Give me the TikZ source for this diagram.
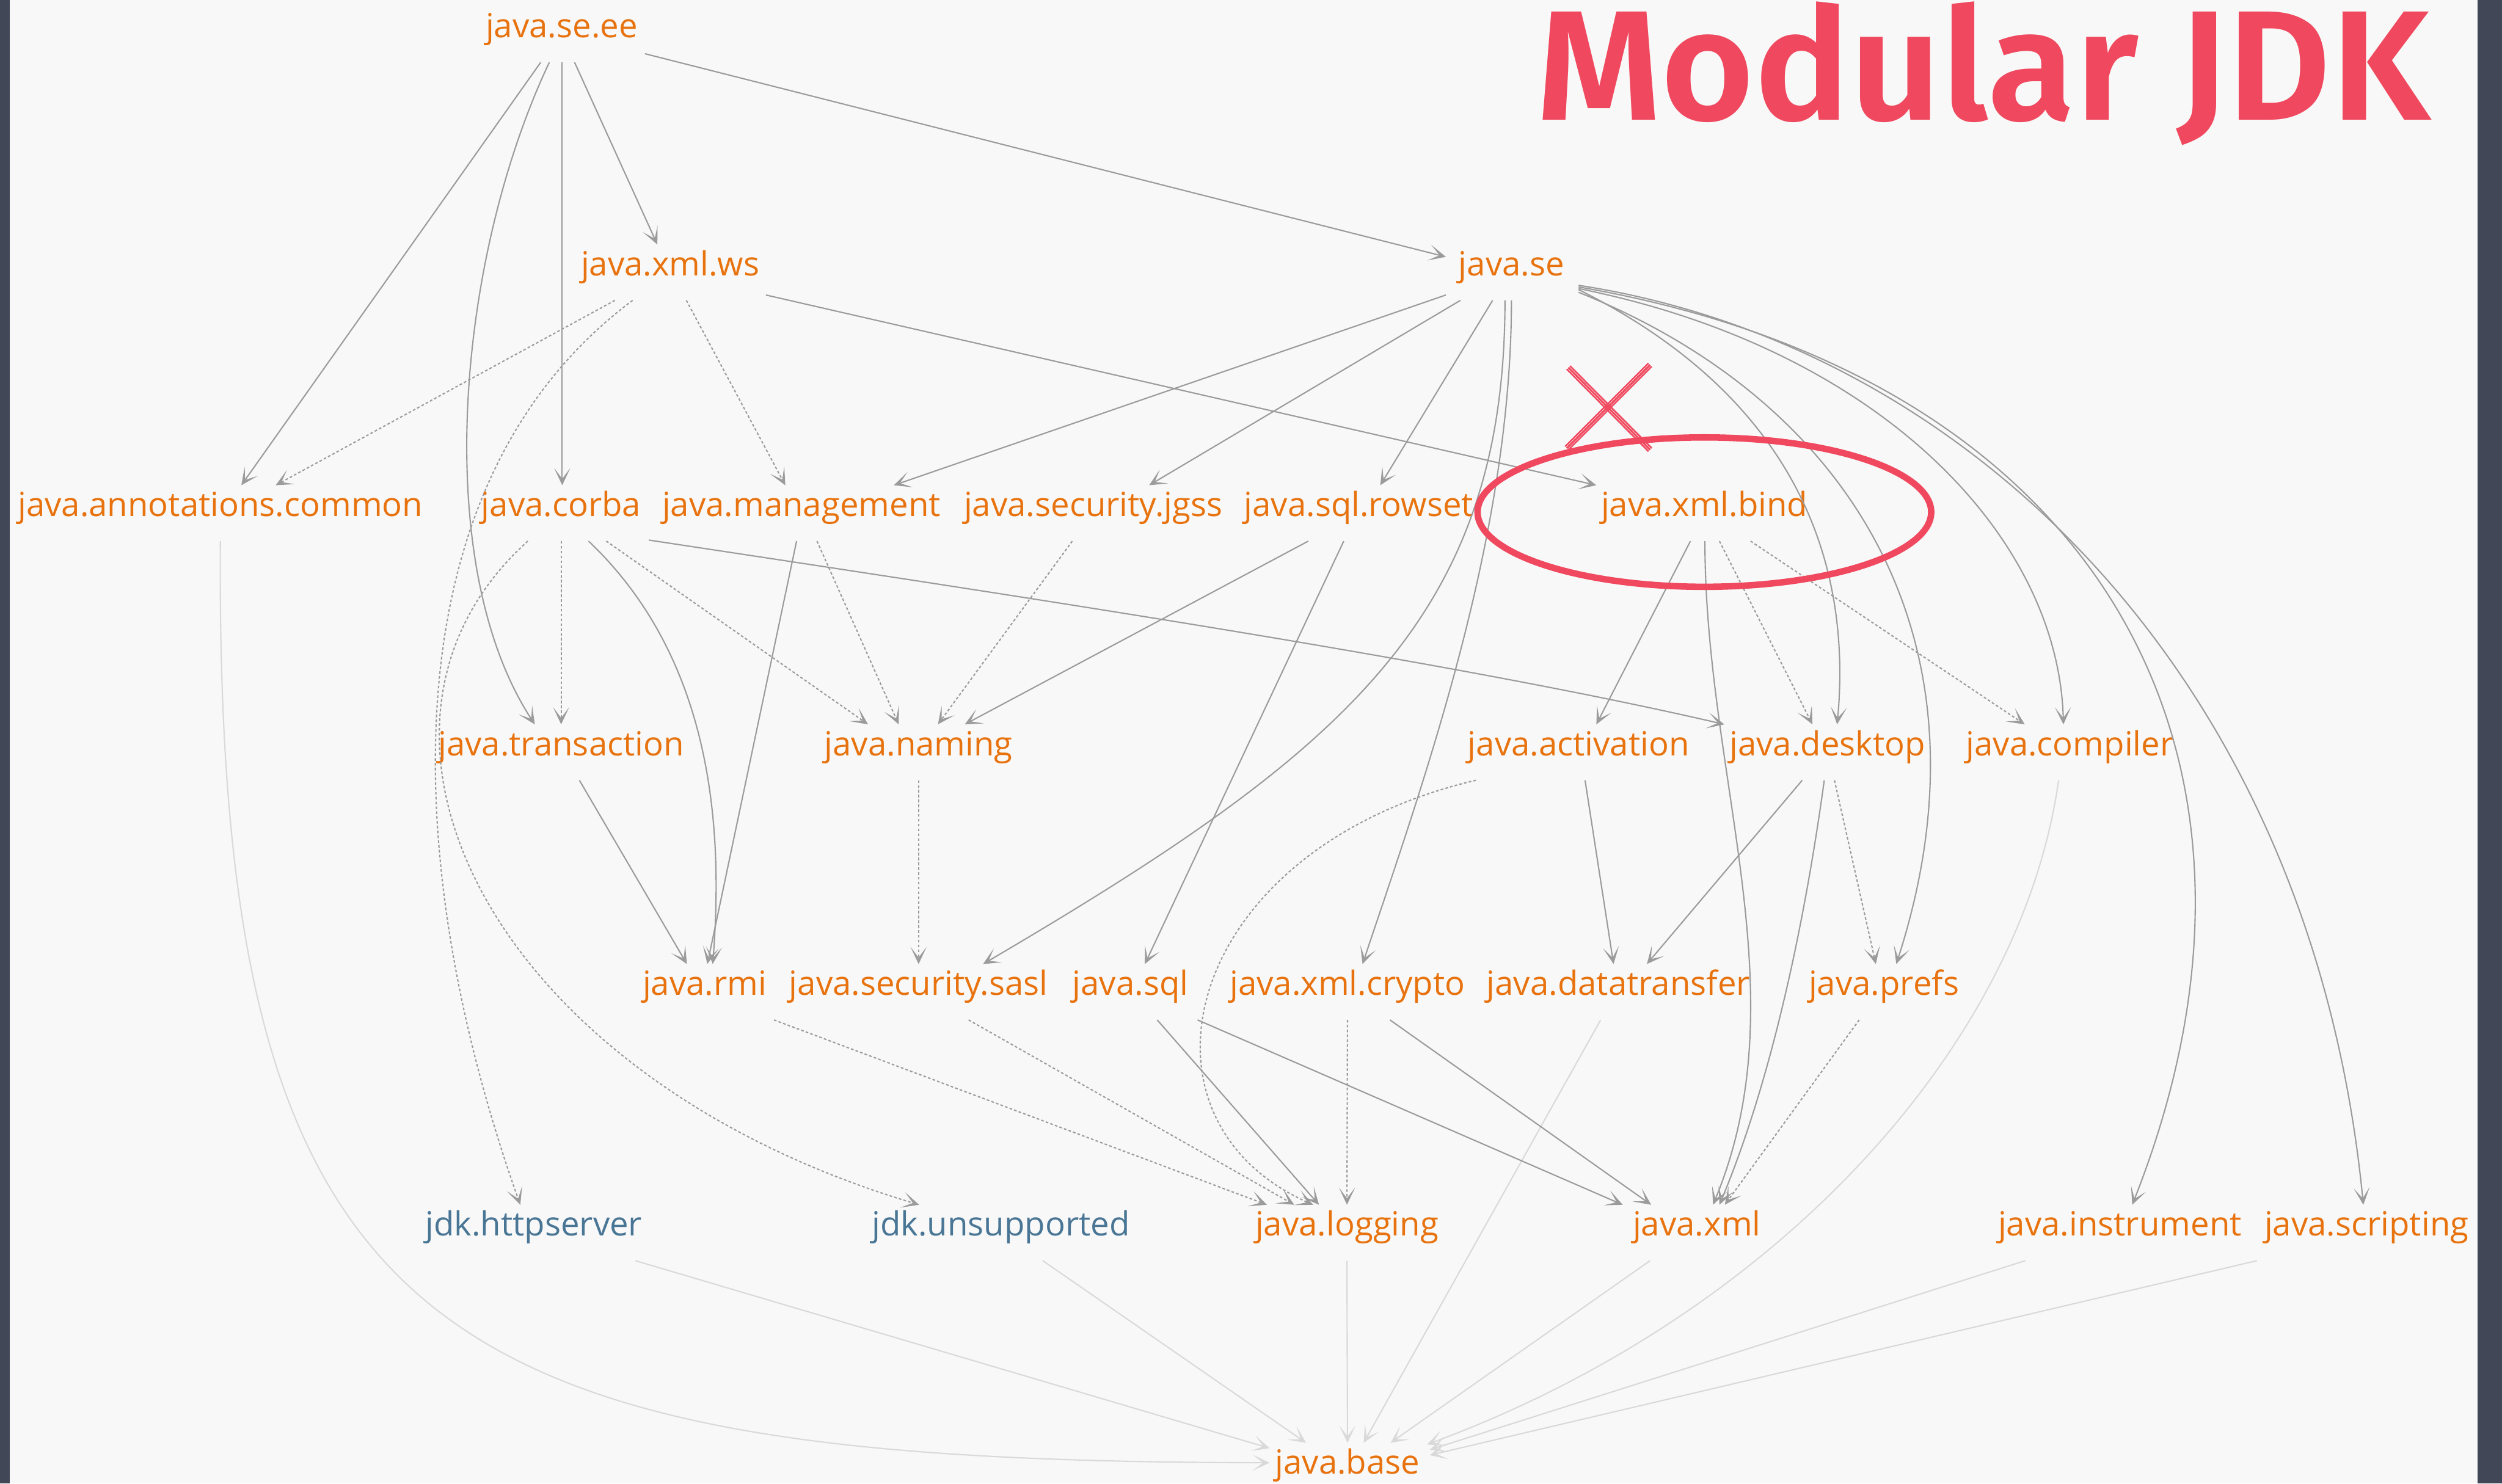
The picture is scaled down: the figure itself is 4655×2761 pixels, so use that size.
\documentclass[tikz,border=0pt]{standalone}
\usepackage{fontspec}
\usepackage{graphicx}
\usetikzlibrary{arrows.meta}
\newfontfamily\lblfont{Open Sans}
\newfontfamily\titlefont{Fira Sans SemiBold}
\definecolor{bgc}{HTML}{F8F8F8}
\definecolor{stripc}{HTML}{414757}
\definecolor{lblor}{HTML}{E8730E}
\definecolor{lblbl}{HTML}{4A7696}
\definecolor{edg}{HTML}{9B9B9B}
\definecolor{edgl}{HTML}{D9D9D9}
\definecolor{redm}{HTML}{F0485E}
\begin{document}
\begin{tikzpicture}[x=1pt,y=-1pt,
  mod/.style={font=\lblfont\fontsize{62}{74}\selectfont, text=lblor, inner xsep=8pt, inner ysep=0pt, outer sep=0pt, text height=58pt, text depth=46pt, anchor=base},
  jdk/.style={mod, text=lblbl},
  tipv/.tip={Stealth[length=32pt,width=30pt,inset=20pt]},
  dep/.style={draw=edg, line width=2.4pt, -tipv},
  dsh/.style={dep, dash pattern=on 5pt off 4pt},
  bas/.style={draw=edgl, line width=2.4pt, -tipv}
]
\useasboundingbox (0,0) rectangle (4655,2761);
\fill[bgc] (0,0) rectangle (4655,2761);
\fill[stripc] (0,0) rectangle (18,2761);
\fill[stripc] (4610,0) rectangle (4655,2761);

% title
\node[anchor=base west, inner sep=0pt, text=redm] (title) at (2858,223) {\resizebox{1662pt}{220pt}{\titlefont Modular JDK}};

% nodes
\node[mod] (see) at (1045,70) {java.se.ee};
\node[mod] (xws) at (1247,513) {java.xml.ws};
\node[mod] (se) at (2812,513) {java.se};
\node[mod] (ann) at (410,961) {java.annotations.common};
\node[mod] (corba) at (1044,961) {java.corba};
\node[mod] (mgmt) at (1491,961) {java.management};
\node[mod] (jgss) at (2034,961) {java.security.jgss};
\node[mod] (rowset) at (2528,961) {java.sql.rowset};
\node[mod] (bind) at (3171,961) {java.xml.bind};
\node[mod] (trans) at (1044,1406) {java.transaction};
\node[mod] (naming) at (1709,1406) {java.naming};
\node[mod] (activ) at (2937,1406) {java.activation};
\node[mod] (desk) at (3400,1406) {java.desktop};
\node[mod] (comp) at (3851,1406) {java.compiler};
\node[mod] (rmi) at (1311,1852) {java.rmi};
\node[mod] (sasl) at (1709,1852) {java.security.sasl};
\node[mod] (sql) at (2103,1852) {java.sql};
\node[mod] (crypto) at (2507,1852) {java.xml.crypto};
\node[mod] (dt) at (3011,1852) {java.datatransfer};
\node[mod] (prefs) at (3505,1852) {java.prefs};
\node[jdk] (http) at (993,2300) {jdk.httpserver};
\node[jdk] (unsup) at (1862,2300) {jdk.unsupported};
\node[mod] (log) at (2506,2300) {java.logging};
\node[mod] (xml) at (3157,2300) {java.xml};
\node[mod] (instr) at (3944,2300) {java.instrument};
\node[mod] (script) at (4403,2300) {java.scripting};
\node[mod] (base) at (2507,2743) {java.base};

% edges to java.base (light)
\draw[bas] (ann.south) .. controls (400,2500) and (800,2720) .. ([xshift=-145pt,yshift=-37pt]base.north);
\draw[bas] ([xshift=189pt]http.south) -- ([xshift=-145pt,yshift=-10pt]base.north);
\draw[bas] ([xshift=78pt]unsup.south) -- ([xshift=-77pt]base.north);
\draw[bas] (log.south) -- (base.north);
\draw[bas] ([xshift=-33pt]dt.south) -- ([xshift=30pt]base.north);
\draw[bas] ([xshift=-87pt]xml.south) -- ([xshift=80pt]base.north);
\draw[bas] ([xshift=-21pt]comp.south) .. controls (3760,1950) and (3300,2450) .. ([xshift=148pt,yshift=-3pt]base.north);
\draw[bas] ([xshift=-176pt]instr.south) -- ([xshift=153pt,yshift=-13pt]base.north);
\draw[bas] ([xshift=-204pt]script.south) -- ([xshift=153pt,yshift=-23pt]base.north);

% java.se.ee
\draw[dep] ([xshift=-39pt]see.south) -- ([xshift=39pt]ann.north);
\draw[dep] ([xshift=-23pt]see.south) .. controls (850,480) and (800,1050) .. ([xshift=-49pt]trans.north);
\draw[dep] ([xshift=1pt]see.south) -- ([xshift=2pt]corba.north);
\draw[dep] ([xshift=24pt]see.south) -- ([xshift=-24pt]xws.north);
\draw[dep] ([xshift=155pt,yshift=16pt]see.south) -- ([xshift=-122pt,yshift=-23pt]se.north);

% java.xml.ws
\draw[dsh] ([xshift=-103pt]xws.south) -- ([xshift=103pt]ann.north);
\draw[dsh] ([xshift=-70pt]xws.south) .. controls (720,900) and (740,1600) .. ([xshift=-25pt]http.north);
\draw[dsh] ([xshift=30pt]xws.south) -- ([xshift=-30pt]mgmt.north);
\draw[dep] ([xshift=178pt,yshift=10pt]xws.south) -- ([xshift=-201pt]bind.north);

% java.se
\draw[dep] ([xshift=-122pt,yshift=10pt]se.south) -- ([xshift=172pt]mgmt.north);
\draw[dep] ([xshift=-95pt]se.south) -- ([xshift=104pt]jgss.north);
\draw[dep] ([xshift=-35pt]se.south) -- ([xshift=40pt]rowset.north);
\draw[dep] ([xshift=-12pt]se.south) .. controls (2800,1150) and (2500,1400) .. ([xshift=120pt]sasl.north);
\draw[dep] (se.south) .. controls (2812,1000) and (2650,1450) .. ([xshift=28pt]crypto.north);
\draw[dep] ([xshift=125pt,yshift=20pt]se.south) .. controls (3300,720) and (3450,1000) .. ([xshift=18pt]desk.north);
\draw[dep] ([xshift=125pt,yshift=15pt]se.south) .. controls (3450,750) and (3720,1200) .. ([xshift=23pt]prefs.north);
\draw[dep] ([xshift=125pt,yshift=22pt]se.south) .. controls (3500,650) and (3830,1000) .. ([xshift=-12pt]comp.north);
\draw[dep] ([xshift=125pt,yshift=25pt]se.south) .. controls (3900,700) and (4300,1400) .. ([xshift=23pt]instr.north);
\draw[dep] ([xshift=125pt,yshift=28pt]se.south) .. controls (3650,640) and (4300,1250) .. ([xshift=-6pt]script.north);

% java.corba
\draw[dsh] (corba.south) -- (trans.north);
\draw[dep] ([xshift=51pt]corba.south) .. controls (1330,1230) and (1345,1550) .. ([xshift=15pt]rmi.north);
\draw[dsh] ([xshift=84pt]corba.south) -- ([xshift=-94pt]naming.north);
\draw[dep] ([xshift=163pt,yshift=2pt]corba.south) .. controls (1900,1110) and (2700,1230) .. ([xshift=-192pt]desk.north);
\draw[dsh] ([xshift=-62pt]corba.south) .. controls (600,1350) and (900,2000) .. ([xshift=-152pt]unsup.north);

% row 3 others
\draw[dep] ([xshift=-9pt]mgmt.south) -- ([xshift=5pt]rmi.north);
\draw[dsh] ([xshift=29pt]mgmt.south) -- ([xshift=-37pt]naming.north);
\draw[dsh] ([xshift=-39pt]jgss.south) -- ([xshift=36pt]naming.north);
\draw[dep] ([xshift=-94pt]rowset.south) -- ([xshift=86pt]naming.north);
\draw[dep] ([xshift=-28pt]rowset.south) -- ([xshift=27pt]sql.north);

% java.xml.bind
\draw[dep] ([xshift=-26pt]bind.south) -- ([xshift=33pt]activ.north);
\draw[dep] ([xshift=1pt]bind.south) .. controls (3172,1450) and (3350,1850) .. ([xshift=30pt]xml.north);
\draw[dsh] ([xshift=28pt]bind.south) -- ([xshift=-28pt]desk.north);
\draw[dsh] ([xshift=86pt]bind.south) -- ([xshift=-84pt]comp.north);

% row 4
\draw[dep] ([xshift=34pt]trans.south) -- ([xshift=-33pt]rmi.north);
\draw[dsh] (naming.south) -- (sasl.north);
\draw[dep] ([xshift=12pt]activ.south) -- ([xshift=-9pt]dt.north);
\draw[dsh] ([xshift=-191pt]activ.south) .. controls (2200,1580) and (2080,2080) .. ([xshift=-63pt]log.north);
\draw[dep] ([xshift=-47pt]desk.south) -- ([xshift=53pt]dt.north);
\draw[dep] ([xshift=-6pt]desk.south) .. controls (3360,1700) and (3300,2000) .. ([xshift=42pt]xml.north);
\draw[dsh] ([xshift=13pt]desk.south) -- ([xshift=-15pt]prefs.north);

% row 5
\draw[dsh] ([xshift=129pt]rmi.south) -- ([xshift=-149pt]log.north);
\draw[dsh] ([xshift=93pt]sasl.south) -- ([xshift=-98pt]log.north);
\draw[dep] ([xshift=50pt]sql.south) -- ([xshift=-52pt]log.north);
\draw[dep] ([xshift=125pt]sql.south) -- ([xshift=-138pt]xml.north);
\draw[dsh] (crypto.south) -- (log.north);
\draw[dep] ([xshift=79pt]crypto.south) -- ([xshift=-85pt]xml.north);
\draw[dsh] ([xshift=-46pt]prefs.south) -- ([xshift=52pt]xml.north);

% red annotation
\draw[redm, line width=12pt] (3171,953) ellipse [x radius=422pt, y radius=139pt];
\draw[redm, line width=3.5pt] (2918,684) -- (3070,837);
\draw[redm, line width=3pt] (2921,681) -- (3073,834);
\draw[redm, line width=3pt] (2915,687) -- (3067,840);
\draw[redm, line width=3.5pt] (3070,679) -- (2915,834);
\draw[redm, line width=3pt] (3073,682) -- (2918,837);
\draw[redm, line width=3pt] (3067,676) -- (2912,831);
\end{tikzpicture}
\end{document}
